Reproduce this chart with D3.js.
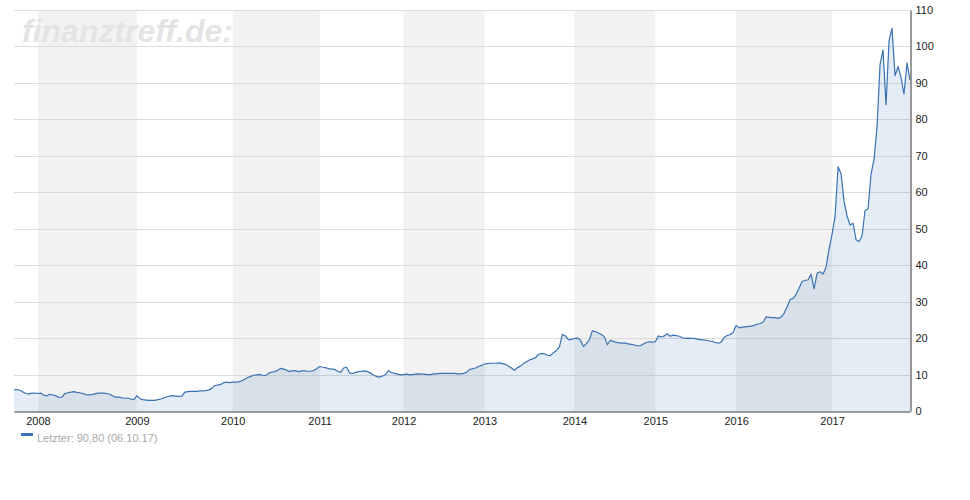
<!DOCTYPE html>
<html>
<head>
<meta charset="utf-8">
<script src="https://cdn.jsdelivr.net/npm/d3@7"></script>
<style>
  html, body { margin: 0; padding: 0; background: #fff; }
  svg { display: block; font-family: "Liberation Sans", Arial, sans-serif; }
</style>
</head>
<body>
<svg id="chart" width="970" height="500"></svg>
<script>
// Closing prices, one sample per step (index-based time axis as in the original)
const values = [
  5.8, 5.9, 5.7, 5.2, 4.8, 4.7, 4.9, 4.9, 4.8, 4.9,
  4.3, 4.2, 4.6, 4.4, 4.2, 3.7, 3.8, 4.8, 5.0, 5.2,
  5.3, 5.1, 5.0, 4.8, 4.5, 4.4, 4.5, 4.7, 4.9, 4.9,
  4.9, 4.8, 4.6, 4.1, 3.8, 3.8, 3.6, 3.5, 3.5, 3.3,
  3.1, 4.2, 3.4, 3.1, 3.0, 2.9, 2.9, 2.9, 3.1, 3.3,
  3.6, 3.9, 4.1, 4.2, 4.1, 4.0, 4.1, 5.2, 5.3, 5.4,
  5.4, 5.4, 5.5, 5.5, 5.6, 5.8, 6.2, 7.0, 7.1, 7.3,
  7.8, 7.9, 7.8, 7.9, 7.9, 8.0, 8.3, 8.7, 9.2, 9.5,
  9.8, 9.9, 10.0, 9.8, 9.7, 10.4, 10.7, 10.8, 11.2, 11.7,
  11.5, 11.2, 10.8, 11.1, 11.0, 10.8, 11.0, 11.0, 10.9, 10.9,
  11.1, 11.6, 12.2, 12.0, 11.9, 11.6, 11.5, 11.4, 10.9, 10.6,
  11.8, 12.0, 10.4, 10.3, 10.6, 10.8, 10.9, 11.0, 10.8, 10.4,
  9.8, 9.5, 9.3, 9.6, 10.0, 11.1, 10.5, 10.3, 10.1, 9.9,
  10.0, 10.1, 9.9, 10.0, 10.1, 10.2, 10.1, 10.1, 10.0, 10.0,
  10.2, 10.2, 10.3, 10.3, 10.3, 10.3, 10.3, 10.3, 10.2, 10.2,
  10.3, 10.6, 11.4, 11.6, 11.8, 12.2, 12.5, 12.9, 13.0, 13.1,
  13.1, 13.1, 13.2, 13.0, 12.8, 12.3, 11.8, 11.2, 11.9, 12.3,
  13.0, 13.5, 14.0, 14.3, 14.6, 15.5, 15.8, 15.7, 15.3, 15.2,
  16.0, 16.6, 17.6, 21.0, 20.6, 19.6, 19.6, 19.9, 20.0, 19.5,
  17.7, 18.5, 19.5, 22.0, 21.8, 21.4, 21.0, 20.4, 18.2, 19.4,
  19.1, 18.8, 18.7, 18.6, 18.6, 18.4, 18.3, 18.1, 17.9, 17.9,
  18.4, 18.8, 19.0, 18.9, 19.0, 20.6, 20.3, 20.6, 21.2, 20.5,
  20.8, 20.7, 20.5, 20.1, 19.9, 20.0, 19.9, 19.9, 19.7, 19.6,
  19.5, 19.4, 19.2, 19.1, 18.8, 18.6, 18.9, 20.2, 20.7, 21.0,
  21.6, 23.5, 22.8, 23.0, 23.1, 23.2, 23.3, 23.5, 23.8, 24.0,
  24.4, 25.8, 25.7, 25.6, 25.6, 25.4, 25.8, 26.8, 28.6, 30.6,
  30.9, 32.0, 33.7, 35.6, 35.8, 36.0, 37.5, 33.5, 37.8, 38.2,
  37.6, 39.5, 44.5, 48.5, 53.5, 67.0, 65.0, 57.5, 53.5, 51.0,
  51.5, 47.0, 46.5, 48.0, 55.0, 55.5, 65.0, 69.0, 78.0, 95.0,
  99.0, 84.0, 101.5, 105.0, 92.0, 94.5, 91.5, 87.0, 95.5, 90.8
];
// Index in the series where each calendar year begins
const yearStartIndex = [8, 41, 73, 102, 130, 157, 187, 214, 241, 273];
const yearLabels = ["2008", "2009", "2010", "2011", "2012", "2013", "2014", "2015", "2016", "2017"];
const yTicks = [0, 10, 20, 30, 40, 50, 60, 70, 80, 90, 100, 110];
const legendText = "Letzter: 90,80 (06.10.17)";
const watermark = "finanztreff.de:";

(function () {
const svg = d3.select("#chart");
const pLeft = 14, pRight = 910, pTop = 10, pBottom = 411;

const x = d3.scaleLinear().domain([0, values.length - 1]).range([pLeft, pRight]);
const y = d3.scaleLinear().domain([0, 110]).range([pBottom, pTop]);

// alternating year bands (even years grey)
const bands = yearStartIndex.map((s, i) => ({ s, e: i + 1 < yearStartIndex.length ? yearStartIndex[i + 1] : values.length - 1, i }));
svg.append("g").selectAll("rect")
  .data(bands.filter(d => d.i % 2 === 0))
  .join("rect")
  .attr("x", d => x(d.s))
  .attr("width", d => x(d.e) - x(d.s))
  .attr("y", pTop)
  .attr("height", pBottom - pTop)
  .attr("fill", "#f2f2f2");

// watermark
svg.append("text")
  .attr("x", 22).attr("y", 42)
  .attr("font-size", 32)
  .attr("font-weight", "bold")
  .attr("font-style", "italic")
  .attr("fill", "#e4e4e4")
  .text(watermark);

// horizontal grid
svg.append("g").selectAll("line")
  .data(yTicks.filter(t => t > 0))
  .join("line")
  .attr("x1", pLeft).attr("x2", pRight)
  .attr("y1", d => Math.round(y(d)) + 0.5).attr("y2", d => Math.round(y(d)) + 0.5)
  .attr("stroke", "#dcdcdc").attr("stroke-width", 1);

// area + line
const area = d3.area().x((d, i) => x(i)).y0(y(0)).y1(d => y(d));
const line = d3.line().x((d, i) => x(i)).y(d => y(d));
svg.append("path").datum(values).attr("d", area)
  .attr("fill", "#2f6fb5").attr("fill-opacity", 0.13);
svg.append("path").datum(values).attr("d", line)
  .attr("fill", "none").attr("stroke", "#3a72b2").attr("stroke-width", 1.2)
  .attr("stroke-linejoin", "round");

// right y axis
const yAxis = d3.axisRight(y).tickValues(yTicks).tickSize(0).tickPadding(5);
const gy = svg.append("g").attr("transform", `translate(${pRight + 0.5},0)`).call(yAxis);
gy.select(".domain").attr("stroke", "#333");
gy.selectAll("text").attr("font-size", 11).attr("fill", "#222")
  .attr("font-family", "'Liberation Sans', Arial, sans-serif");

// bottom x axis
const xAxis = d3.axisBottom(x).tickValues(yearStartIndex)
  .tickFormat((d, i) => yearLabels[i]).tickSize(0).tickPadding(6);
const gx = svg.append("g").attr("transform", `translate(0,${pBottom + 0.5})`).call(xAxis);
gx.select(".domain").attr("stroke", "#333");
gx.selectAll("text").attr("font-size", 11).attr("fill", "#222")
  .attr("font-family", "'Liberation Sans', Arial, sans-serif");

// legend
svg.append("rect").attr("x", 21).attr("y", 433).attr("width", 12).attr("height", 3).attr("fill", "#3a72b2");
svg.append("text").attr("x", 37).attr("y", 442).attr("font-size", 11).attr("fill", "#a8a8a8")
  .text(legendText);
})();
</script>
</body>
</html>
